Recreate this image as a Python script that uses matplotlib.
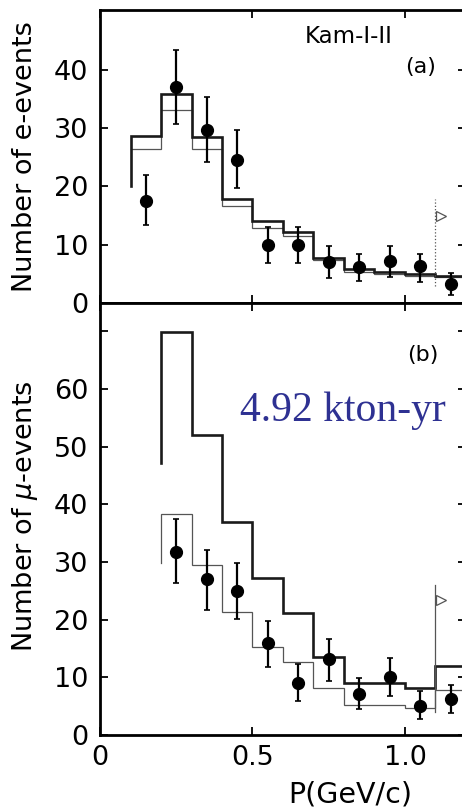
import numpy as np
import matplotlib
matplotlib.use("Agg")
import matplotlib.pyplot as plt

# e-like events (panel a)
e_x = [0.15, 0.25, 0.35, 0.45, 0.55, 0.65, 0.75, 0.85, 0.95, 1.05, 1.15]
e_y = [17.5, 37.0, 29.7, 24.6, 9.9, 10.0, 7.0, 6.1, 7.2, 6.3, 3.3]
e_err_lo = [4.1, 6.2, 5.5, 4.8, 3.1, 3.1, 2.7, 2.4, 2.8, 2.7, 1.9]
e_err_hi = [4.4, 6.4, 5.7, 5.1, 3.1, 3.0, 2.7, 2.3, 2.5, 2.1, 1.9]
e_edges = [0.1, 0.2, 0.3, 0.4, 0.5, 0.6, 0.7, 0.8, 0.9, 1.0, 1.1, 1.2]
e_mc_thick = [28.7, 35.8, 28.5, 17.9, 14.0, 12.2, 7.7, 5.8, 5.3, 5.0, 4.7]
e_mc_thick_start = 20.0
e_mc_thin = [26.5, 33.2, 26.4, 16.6, 12.9, 11.5, 7.4, 5.4, 4.9, 4.6, 4.5]
e_mc_thin_start = 26.5
e_overflow = (1.1, 17.8, 3.0, 15.0)

# mu-like events (panel b)
mu_x = [0.25, 0.35, 0.45, 0.55, 0.65, 0.75, 0.85, 0.95, 1.05, 1.15]
mu_y = [31.8, 27.0, 25.0, 16.0, 9.0, 13.1, 7.1, 10.1, 5.0, 6.2]
mu_err_lo = [5.5, 5.3, 4.9, 4.2, 3.1, 3.7, 2.6, 3.3, 2.3, 2.4]
mu_err_hi = [5.6, 5.0, 4.8, 3.8, 3.3, 3.5, 2.7, 3.2, 2.6, 2.5]
mu_edges = [0.2, 0.3, 0.4, 0.5, 0.6, 0.7, 0.8, 0.9, 1.0, 1.1, 1.2]
mu_mc_thick = [69.8, 52.0, 37.0, 27.2, 21.1, 13.6, 9.0, 9.0, 8.1, 12.0]
mu_mc_thick_start = 47.1
mu_mc_thin = [38.4, 29.4, 21.3, 15.3, 12.6, 8.1, 5.2, 5.2, 4.6, 7.8]
mu_mc_thin_start = 29.8
mu_overflow = (1.1, 26.0, 4.0, 23.4)

FS = 19.5

fig = plt.figure(figsize=(4.62, 8.08), dpi=100)
ax1 = fig.add_axes([100/462, 1-303/808, 366/462, 293/808])
ax2 = fig.add_axes([100/462, 1-735/808, 366/462, 432/808])


def hist_line(ax, edges, vals, start, lw, color, ls='-'):
    xs = [edges[0]] + list(edges)
    ys = [start] + list(vals) + [vals[-1]]
    ax.plot(xs, ys, drawstyle='steps-post', lw=lw, color=color, ls=ls,
            solid_joinstyle='miter')


def panel(ax, x, y, lo, hi, edges, thick, thick_start, thin, thin_start, ovf, ovf_ls):
    hist_line(ax, edges, thin, thin_start, 0.9, '#555555')
    hist_line(ax, edges, thick, thick_start, 1.9, '#1a1a1a')
    ax.errorbar(x, y, yerr=[lo, hi], fmt='o', color='black', ms=8.5,
                elinewidth=1.6, capsize=2.5, capthick=1.2)
    xo, ytop, ybot, ym = ovf
    ax.plot([xo, xo], [ybot, ytop], color='#555555', lw=0.9, ls=ovf_ls)
    ax.plot([xo + 0.018], [ym], marker='>', ms=7, mfc='white', mec='#555555', mew=0.9)
    for s in ax.spines.values():
        s.set_linewidth(2.0)
    ax.tick_params(direction='in', length=6, width=1.3, top=True, right=True,
                   labelsize=FS, pad=8.5)
    ax.set_xlim(0, 1.2)


panel(ax1, e_x, e_y, e_err_lo, e_err_hi, e_edges, e_mc_thick, e_mc_thick_start,
      e_mc_thin, e_mc_thin_start, e_overflow, ':')
panel(ax2, mu_x, mu_y, mu_err_lo, mu_err_hi, mu_edges, mu_mc_thick, mu_mc_thick_start,
      mu_mc_thin, mu_mc_thin_start, mu_overflow, '-')

ax1.set_ylim(0, 50.3)
ax1.set_yticks([0, 10, 20, 30, 40])
ax1.set_xticks([0, 0.5, 1.0])
ax1.set_xticklabels([])

ax2.set_ylim(0, 74.9)
ax2.set_yticks([0, 10, 20, 30, 40, 50, 60, 70])
ax2.set_yticklabels(['0', '10', '20', '30', '40', '50', '60', ''])
ax2.set_xticks([0, 0.5, 1.0])
ax2.set_xticklabels(['0', '0.5', '1.0'])
ax2.tick_params(axis='x', pad=7)

fig.text(25/462, 1-157/808, 'Number of e-events', rotation=90, fontsize=FS,
         ha='center', va='center')
fig.text(25/462, 1-516/808, r'Number of $\mu$-events', rotation=90, fontsize=FS,
         ha='center', va='center')
fig.text(350/462, 1-795/808, 'P(GeV/c)', fontsize=20.5, ha='center', va='center')

fig.text(349/462, 1-36.5/808, 'Kam-I-II', fontsize=16.5, ha='center', va='center')
fig.text(421/462, 1-67/808, '(a)', fontsize=16, ha='center', va='center')
fig.text(423/462, 1-355/808, '(b)', fontsize=16, ha='center', va='center')
fig.text(343/462, 1-411/808, '4.92 kton-yr', fontsize=30, color='#2E3192',
         family='Liberation Serif', ha='center', va='center')

fig.savefig('out.png', dpi=100)
